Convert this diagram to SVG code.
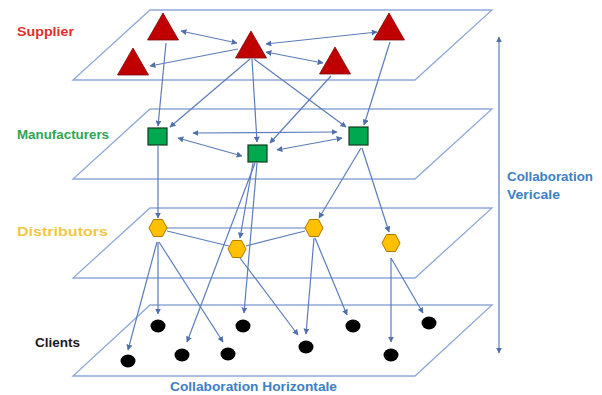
<svg xmlns="http://www.w3.org/2000/svg" xmlns:xlink="http://www.w3.org/1999/xlink" width="602" height="395" viewBox="0 0 602 395">
  <style>
    .plane { fill: none; stroke: #8EA9D8; stroke-width: 1.3; }
    .link { fill: none; stroke: #5C7DB9; stroke-width: 1.2; }
    .tri { fill: #C00000; stroke: #7A0A0A; stroke-width: 0.8; }
    .sq { fill: #00A94F; stroke: #123D1E; stroke-width: 1.2; }
    .hex { fill: #FFC000; stroke: #B07A00; stroke-width: 1; }
    .cli { fill: #000000; }
    .lbl { font-family: "Liberation Sans", Arial, sans-serif; font-weight: bold; font-size: 12px; }
    .collab { font-family: "Liberation Sans", Arial, sans-serif; font-weight: bold; font-size: 12.5px; fill: #3C80C2; }
  </style>
  <defs>
    <marker id="ah" viewBox="0 0 10 10" refX="9" refY="5" markerWidth="6" markerHeight="6" markerUnits="userSpaceOnUse" orient="auto-start-reverse">
      <path d="M0,0 L10,5 L0,10 z" fill="#4F6FAD"/>
    </marker>
    <polygon id="triangle" points="0,0 15.5,27 -15.5,27"/>
    <polygon id="hexagon" points="-9,0 -4.5,-8.5 4.5,-8.5 9,0 4.5,8.5 -4.5,8.5"/>
  </defs>

  <!-- layer planes -->
  <g id="planes">
    <polygon class="plane" points="150,10 492,10 415,80 73,80"/>
    <polygon class="plane" points="150,109 492,109 415,179 73,179"/>
    <polygon class="plane" points="150,208 492,208 415,278 73,278"/>
    <polygon class="plane" points="150,305 492,305 415,376 73,376"/>
  </g>

  <!-- layer labels -->
  <g id="labels">
    <text class="lbl" x="17" y="36" fill="#E0302C" textLength="57" lengthAdjust="spacingAndGlyphs">Supplier</text>
    <text class="lbl" x="17" y="139" fill="#2FA552" textLength="92" lengthAdjust="spacingAndGlyphs">Manufacturers</text>
    <text class="lbl" x="17" y="236" fill="#F2C744" font-size="13" textLength="91" lengthAdjust="spacingAndGlyphs">Distributors</text>
    <text class="lbl" x="35" y="347" fill="#1A1A1A" textLength="45" lengthAdjust="spacingAndGlyphs">Clients</text>
  </g>

  <!-- connectors -->
  <g id="connectors">
    <!-- among suppliers -->
    <line class="link" x1="181" y1="31" x2="237" y2="43" marker-start="url(#ah)" marker-end="url(#ah)"/>
    <line class="link" x1="238" y1="49" x2="150" y2="66" marker-end="url(#ah)"/>
    <line class="link" x1="266" y1="52" x2="323" y2="63" marker-start="url(#ah)" marker-end="url(#ah)"/>
    <line class="link" x1="266" y1="44" x2="377" y2="32" marker-start="url(#ah)" marker-end="url(#ah)"/>
    <!-- suppliers to manufacturers -->
    <line class="link" x1="166" y1="43" x2="158" y2="126" marker-end="url(#ah)"/>
    <line class="link" x1="250" y1="59" x2="170" y2="127" marker-end="url(#ah)"/>
    <line class="link" x1="252" y1="59" x2="257" y2="142" marker-end="url(#ah)"/>
    <line class="link" x1="254" y1="59" x2="346" y2="127" marker-end="url(#ah)"/>
    <line class="link" x1="331" y1="76" x2="270" y2="143" marker-end="url(#ah)"/>
    <line class="link" x1="390" y1="42" x2="364" y2="125" marker-end="url(#ah)"/>
    <!-- among manufacturers -->
    <line class="link" x1="193" y1="133" x2="337" y2="132" marker-start="url(#ah)" marker-end="url(#ah)"/>
    <line class="link" x1="178" y1="138" x2="242" y2="156" marker-start="url(#ah)" marker-end="url(#ah)"/>
    <line class="link" x1="277" y1="150" x2="342" y2="138" marker-start="url(#ah)" marker-end="url(#ah)"/>
    <!-- manufacturers to distributors / clients -->
    <line class="link" x1="158" y1="146" x2="158" y2="218" marker-end="url(#ah)"/>
    <line class="link" x1="253" y1="163" x2="240" y2="238" marker-end="url(#ah)"/>
    <line class="link" x1="255" y1="163" x2="187" y2="342" marker-end="url(#ah)"/>
    <line class="link" x1="257" y1="163" x2="244" y2="313" marker-end="url(#ah)"/>
    <line class="link" x1="361" y1="148" x2="319" y2="218" marker-end="url(#ah)"/>
    <line class="link" x1="362" y1="148" x2="389" y2="232" marker-end="url(#ah)"/>
    <!-- among distributors -->
    <line class="link" x1="167" y1="228" x2="305" y2="228"/>
    <line class="link" x1="167" y1="231" x2="229" y2="246"/>
    <line class="link" x1="246" y1="246" x2="305" y2="231"/>
    <!-- distributors to clients -->
    <line class="link" x1="157" y1="242" x2="128" y2="350" marker-end="url(#ah)"/>
    <line class="link" x1="158" y1="242" x2="158" y2="314" marker-end="url(#ah)"/>
    <line class="link" x1="159" y1="242" x2="223" y2="342" marker-end="url(#ah)"/>
    <line class="link" x1="240" y1="258" x2="298" y2="335" marker-end="url(#ah)"/>
    <line class="link" x1="314" y1="238" x2="306" y2="334" marker-end="url(#ah)"/>
    <line class="link" x1="315" y1="238" x2="347" y2="315" marker-end="url(#ah)"/>
    <line class="link" x1="391" y1="258" x2="391" y2="342" marker-end="url(#ah)"/>
    <line class="link" x1="391" y1="258" x2="423" y2="313" marker-end="url(#ah)"/>
    <!-- vertical collaboration axis -->
    <line class="link" x1="499" y1="37" x2="499" y2="353" stroke="#4A78C4" stroke-width="1.5" marker-start="url(#ah)" marker-end="url(#ah)"/>
  </g>

  <!-- suppliers -->
  <g id="sup1"><use href="#triangle" class="tri" x="163" y="13"/></g>
  <g id="sup2"><use href="#triangle" class="tri" x="133" y="48"/></g>
  <g id="sup3"><use href="#triangle" class="tri" x="251" y="31"/></g>
  <g id="sup4"><use href="#triangle" class="tri" x="335" y="47"/></g>
  <g id="sup5"><use href="#triangle" class="tri" x="389" y="13"/></g>

  <!-- manufacturers -->
  <g id="man1"><rect class="sq" x="148" y="128" width="19" height="17"/></g>
  <g id="man2"><rect class="sq" x="248" y="145" width="19" height="17"/></g>
  <g id="man3"><rect class="sq" x="349" y="127" width="19" height="18"/></g>

  <!-- distributors -->
  <g id="dist1"><use href="#hexagon" class="hex" x="158" y="228"/></g>
  <g id="dist2"><use href="#hexagon" class="hex" x="237" y="249"/></g>
  <g id="dist3"><use href="#hexagon" class="hex" x="314" y="228"/></g>
  <g id="dist4"><use href="#hexagon" class="hex" x="391" y="243"/></g>

  <!-- clients -->
  <g id="cli1"><ellipse class="cli" cx="158" cy="326" rx="7.5" ry="6.5"/></g>
  <g id="cli2"><ellipse class="cli" cx="243" cy="326" rx="7.5" ry="6.5"/></g>
  <g id="cli3"><ellipse class="cli" cx="353" cy="326" rx="7.5" ry="6.5"/></g>
  <g id="cli4"><ellipse class="cli" cx="429" cy="323" rx="7.5" ry="6.5"/></g>
  <g id="cli5"><ellipse class="cli" cx="128" cy="361" rx="7.5" ry="6.5"/></g>
  <g id="cli6"><ellipse class="cli" cx="182" cy="355" rx="7.5" ry="6.5"/></g>
  <g id="cli7"><ellipse class="cli" cx="228" cy="354" rx="7.5" ry="6.5"/></g>
  <g id="cli8"><ellipse class="cli" cx="306" cy="347" rx="7.5" ry="6.5"/></g>
  <g id="cli9"><ellipse class="cli" cx="391" cy="355" rx="7.5" ry="6.5"/></g>

  <!-- collaboration captions -->
  <g id="captions">
    <text class="collab" x="507" y="181" textLength="86" lengthAdjust="spacingAndGlyphs">Collaboration</text>
    <text class="collab" x="507" y="199" textLength="53" lengthAdjust="spacingAndGlyphs">Vericale</text>
    <text class="collab" x="170" y="391" textLength="167" lengthAdjust="spacingAndGlyphs">Collaboration Horizontale</text>
  </g>
</svg>
